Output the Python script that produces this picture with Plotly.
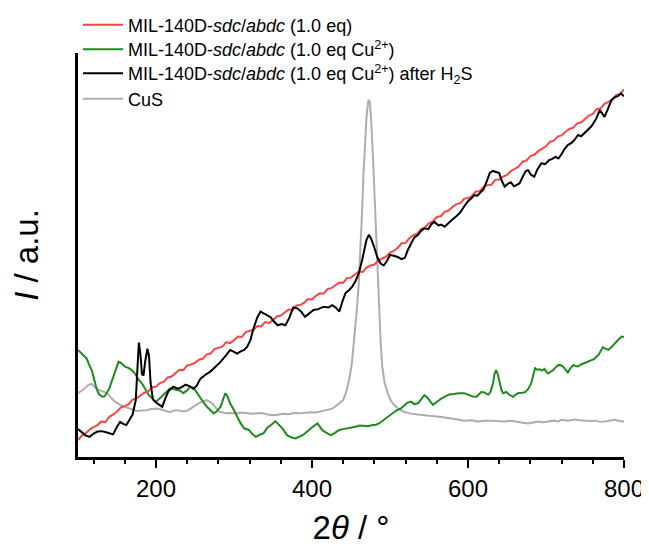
import plotly.graph_objects as go

# ---------------- data ----------------
red_x = list(range(100, 805, 5))
red_y = [4.2, 5.3, 5.9, 6.8, 7.4, 7.9, 8.8, 8.6, 9.9, 10.6, 11.2, 12.3, 12.6, 13.1, 14.2, 14.5,
         15.3, 15.9, 16.2, 17.3, 17.4, 18.3, 18.6, 19.7, 19.9, 20.8, 21.6, 21.5, 22.7, 22.9,
         23.3, 24.1, 24.3, 25.4, 25.6, 26.7, 27.0, 27.3, 28.4, 28.2, 28.9, 29.8, 29.7, 30.9,
         31.2, 31.5, 32.4, 32.3, 33.4, 33.2, 33.9, 34.8, 35.0, 35.7, 36.5, 36.4, 37.5, 37.6,
         38.2, 39.1, 39.0, 39.9, 40.5, 40.4, 41.6, 41.8, 42.5, 43.2, 43.1, 44.3, 44.4, 45.2,
         45.9, 45.8, 46.9, 47.4, 47.6, 48.7, 49.1, 49.6, 50.6, 51.0, 51.8, 52.9, 53.0, 54.2,
         54.9, 55.3, 56.4, 56.8, 57.9, 58.3, 59.4, 59.6, 60.7, 61.0, 61.9, 62.6, 62.8, 63.9,
         64.1, 64.6, 65.7, 65.8, 66.9, 67.3, 67.4, 68.6, 68.7, 69.4, 69.8, 70.8, 71.3, 71.9,
         73.1, 73.4, 74.5, 74.8, 75.7, 76.4, 76.9, 78.0, 78.3, 79.3, 79.6, 80.5, 81.2, 81.5,
         82.6, 82.8, 83.7, 84.5, 84.9, 86.1, 86.3, 87.4, 87.9, 88.4, 89.6, 89.8, 91.0]

green_x = [100, 105, 111, 114, 118, 121, 124, 127, 131, 134, 137, 140, 143, 147, 150, 152, 155, 160,
           165, 169, 172, 175, 178, 182, 185, 188, 191, 195, 199, 202, 205, 209, 214, 218, 222, 227,
           231, 235, 240, 244, 247, 250, 254, 257, 261, 265, 270, 274, 278, 283, 286, 289, 292, 295,
           300, 304, 308, 313, 319, 323, 328, 333, 338, 343, 347, 353, 357, 362, 368, 373, 379, 383,
           388, 392, 396, 401, 407, 410, 413, 418, 424, 429, 435, 440, 446, 451, 456, 461, 467, 472,
           478, 482, 486, 490, 495, 499, 503, 508, 514, 518, 522, 527, 531, 536, 540, 544, 548, 552,
           555, 560, 566, 571, 576, 582, 588, 595, 600, 606, 611, 614, 617, 621, 626, 629, 632, 634,
           636, 638, 640, 643, 645, 649, 653, 658, 661, 664, 669, 673, 677, 681, 684, 686, 689, 692,
           695, 698, 701, 703, 706, 709, 713, 716, 719, 722, 725, 728, 731, 735, 738, 741, 745, 750,
           754, 758, 762, 767, 770, 773, 776, 780, 784, 788, 792, 797, 800]
green_y = [26.5, 25.6, 24.4, 23.0, 21.3, 19.0, 16.8, 15.5, 14.9, 15.0, 15.8, 16.9, 18.6, 21.0, 23.0,
           23.6, 23.3, 22.4, 22.0, 21.5, 20.9, 19.9, 19.1, 18.2, 17.2, 16.2, 15.3, 14.5, 13.7, 14.0,
           14.5, 15.3, 16.2, 17.0, 16.8, 16.6, 16.4, 15.8, 16.5, 17.4, 17.2, 16.6, 15.4, 14.5, 13.5,
           12.5, 11.6, 10.8, 11.3, 12.5, 14.3, 15.8, 14.8, 13.3, 11.6, 10.0, 8.5, 7.1, 6.7, 5.8, 5.0,
           5.5, 5.9, 7.3, 7.8, 8.9, 8.2, 7.1, 5.4, 4.9, 4.6, 4.9, 5.4, 6.0, 6.7, 7.5, 8.3, 7.6, 6.7,
           6.0, 5.4, 5.9, 6.7, 6.9, 7.1, 7.3, 7.5, 7.8, 7.7, 7.6, 7.9, 8.0, 8.3, 8.9, 9.6, 10.2, 10.8,
           11.5, 12.0, 12.6, 13.4, 13.7, 13.1, 13.3, 14.3, 15.3, 14.7, 13.5, 12.9, 13.6, 14.5, 15.0,
           15.5, 15.6, 15.8, 15.8, 15.4, 15.0, 14.9, 15.5, 16.1, 16.0, 15.4, 16.2, 18.2, 20.5, 21.5,
           20.6, 18.6, 16.5, 15.8, 16.1, 15.4, 14.9, 15.4, 15.8, 15.9, 16.0, 16.8, 18.2, 20.5, 22.0,
           21.6, 21.7, 21.4, 21.8, 20.9, 20.7, 21.1, 21.5, 22.3, 22.8, 22.7, 22.4, 21.6, 20.9, 21.9,
           22.8, 22.5, 22.4, 22.9, 23.3, 23.5, 24.0, 24.3, 25.2, 26.1, 27.2, 26.8, 26.5, 27.2, 28.1,
           28.9, 29.8, 29.7]

black_x = [100, 105, 110, 115, 120, 125, 130, 135, 140, 145, 150, 154, 158, 162, 166, 170, 174, 176,
           178, 180, 182, 184, 186, 189, 191, 193, 196, 200, 204, 208, 212, 216, 222, 228, 232, 238,
           244, 248, 252, 257, 263, 270, 276, 283, 290, 295, 300, 304, 308, 313, 317, 321, 325, 330,
           334, 338, 343, 347, 351, 356, 361, 366, 371, 376, 381, 386, 391, 396, 402, 408, 415, 421,
           426, 431, 435, 439, 443, 448, 452, 456, 460, 464, 467, 470, 473, 476, 480, 484, 488, 492,
           496, 500, 505, 510, 515, 519, 523, 527, 531, 536, 540, 544, 549, 553, 557, 562, 566, 570,
           575, 580, 585, 590, 595, 600, 604, 608, 612, 616, 620, 624, 628, 632, 636, 640, 643, 647,
           651, 655, 659, 663, 666, 670, 674, 677, 681, 685, 689, 694, 699, 704, 708, 712, 716, 720,
           724, 728, 733, 737, 741, 745, 750, 754, 758, 762, 765, 769, 772, 775, 779, 784, 788, 792,
           796, 800]
black_y = [6.9, 6.0, 5.3, 5.0, 5.8, 6.3, 6.4, 6.2, 5.9, 5.6, 7.5, 8.7, 8.2, 7.9, 9.2, 10.5, 14.0,
           22.0, 28.3, 25.5, 20.5, 20.2, 23.5, 26.8, 25.0, 18.5, 14.3, 13.5, 13.0, 12.4, 14.5, 16.3,
           17.4, 16.9, 17.2, 17.9, 17.4, 16.9, 17.6, 19.4, 20.3, 21.2, 22.3, 23.6, 25.2, 26.5, 26.0,
           25.6, 26.1, 26.5, 27.3, 28.9, 31.8, 34.6, 36.0, 35.6, 35.1, 34.6, 33.6, 32.6, 32.9, 32.6,
           34.5, 37.0, 36.8, 36.0, 34.7, 35.4, 36.4, 36.6, 37.2, 37.0, 37.6, 36.9, 36.0, 38.5, 40.6,
           41.4, 42.3, 43.6, 45.5, 48.5, 51.2, 53.8, 55.0, 54.0, 51.8, 49.3, 47.9, 47.4, 48.5, 50.0,
           49.8, 49.5, 49.0, 49.3, 51.3, 53.0, 54.3, 55.0, 56.0, 56.6, 56.4, 57.6, 58.2, 57.3, 57.5,
           57.0, 58.0, 58.8, 59.6, 60.5, 62.0, 63.3, 64.0, 64.8, 64.7, 65.6, 66.3, 68.2, 70.3, 70.8,
           70.6, 70.3, 68.5, 66.9, 67.6, 68.0, 67.0, 67.4, 67.7, 69.3, 70.8, 71.0, 69.8, 69.4, 71.2,
           72.7, 72.5, 73.5, 73.8, 74.3, 73.9, 75.0, 76.3, 77.2, 77.8, 78.6, 79.7, 79.4, 80.4, 81.0,
           81.8, 83.0, 84.0, 85.9, 85.0, 84.2, 86.0, 88.4, 89.0, 89.3, 90.0, 89.3]

grey_x = [100, 105, 109, 113, 117, 121, 126, 131, 137, 141, 145, 150, 154, 159, 165, 170, 175, 181,
          188, 194, 201, 205, 210, 218, 223, 227, 232, 238, 243, 248, 254, 259, 265, 270, 274, 280,
          286, 291, 297, 304, 310, 317, 323, 330, 336, 342, 347, 355, 362, 370, 377, 384, 391, 398,
          405, 412, 420, 425, 430, 435, 440, 444, 448, 451, 454, 457, 460, 462, 464, 466, 468, 470,
          472, 473, 474, 476, 478, 480, 482, 484, 486, 488, 490, 493, 497, 501, 505, 511, 518, 525,
          533, 540, 550, 561, 570, 578, 587, 595, 604, 612, 621, 630, 638, 647, 655, 664, 670, 677,
          683, 690, 696, 703, 710, 715, 720, 728, 737, 743, 750, 756, 763, 769, 775, 782, 788, 794,
          800]
grey_y = [15.8, 16.5, 17.0, 17.8, 18.1, 17.4, 16.6, 16.3, 15.8, 15.0, 14.1, 13.4, 12.9, 12.5, 12.1,
          11.7, 11.4, 11.5, 11.6, 11.9, 12.0, 11.8, 11.6, 11.1, 11.5, 11.6, 11.4, 11.3, 11.8, 12.5,
          13.2, 13.7, 14.1, 13.5, 12.9, 11.3, 11.0, 10.8, 10.9, 10.8, 11.0, 10.9, 10.7, 10.8, 10.9,
          10.6, 10.4, 10.4, 10.7, 10.6, 10.9, 10.8, 11.0, 11.1, 11.0, 11.3, 11.6, 11.9, 12.5, 13.2,
          14.1, 16.2, 19.5, 23.0, 28.5, 35.5, 43.0, 50.0, 60.0, 70.0, 78.0, 84.5, 88.0, 88.4, 88.0,
          83.0, 75.0, 66.0, 56.0, 45.0, 36.0, 28.5, 22.5, 18.5, 15.8, 14.0, 12.9, 11.9, 11.2, 10.8,
          10.6, 10.4, 10.2, 10.0, 9.8, 9.6, 9.3, 9.0, 9.1, 8.8, 9.0, 9.0, 8.9, 8.8, 9.0, 8.8, 8.5,
          8.3, 8.6, 8.8, 8.6, 8.8, 9.0, 8.8, 9.2, 9.0, 9.3, 9.1, 9.0, 8.9, 9.0, 8.7, 8.8, 9.0, 9.2,
          8.9, 8.8]

names = [
    "MIL-140D-<i>sdc</i>/<i>abdc</i> (1.0 eq)",
    "MIL-140D-<i>sdc</i>/<i>abdc</i> (1.0 eq Cu<sup>2+</sup>)",
    "MIL-140D-<i>sdc</i>/<i>abdc</i> (1.0 eq Cu<sup>2+</sup>) after H<sub>2</sub>S",
    "CuS",
]
x_tick_vals = [200, 400, 600, 800]

FONT = "Liberation Sans, Arial, sans-serif"

fig = go.Figure()
fig.add_trace(go.Scatter(x=grey_x, y=grey_y, mode="lines", name=names[3], legend="legend4",
                         line=dict(color="#adadad", width=2)))
fig.add_trace(go.Scatter(x=green_x, y=green_y, mode="lines", name=names[1], legend="legend2",
                         line=dict(color="#1e8a1e", width=2)))
fig.add_trace(go.Scatter(x=red_x, y=red_y, mode="lines", name=names[0], legend="legend",
                         line=dict(color="#f54545", width=2)))
fig.add_trace(go.Scatter(x=black_x, y=black_y, mode="lines", name=names[2], legend="legend3",
                         line=dict(color="#000000", width=2)))

# page has an 8px body margin; figure coordinates are page coordinates minus 8
# plot area (page px): x 78..624, y 53..457
PLOT_TOP, PLOT_BOTTOM = 53, 457
row_centers_px = [25, 49.5, 73.5, 99]


def leg(row_px):
    return dict(x=0.0, y=(PLOT_BOTTOM - row_px) / (PLOT_BOTTOM - PLOT_TOP),
                xanchor="left", yanchor="middle",
                bgcolor="rgba(0,0,0,0)", borderwidth=0,
                font=dict(size=18, family=FONT), itemwidth=40)


fig.update_layout(
    width=641, height=542,
    margin=dict(l=70, r=25, t=45, b=93, autoexpand=False),
    paper_bgcolor="white", plot_bgcolor="white",
    font=dict(family=FONT, color="black"),
    showlegend=True,
    legend=leg(row_centers_px[0]),
    legend2=leg(row_centers_px[1]),
    legend3=leg(row_centers_px[2]),
    legend4=leg(row_centers_px[3]),
    xaxis=dict(range=[100, 800], showline=True, linewidth=3, linecolor="black",
               showgrid=False, zeroline=False, mirror=False, automargin=False,
               ticks="outside", ticklen=8, tickwidth=2, tickcolor="black",
               tickvals=x_tick_vals, ticktext=[str(v) for v in x_tick_vals],
               tickfont=dict(size=24, family=FONT),
               minor=dict(dtick=40, tick0=0, ticks="outside", ticklen=4, tickwidth=2, tickcolor="black"),
               title=dict(text="2<i>θ</i> / °", font=dict(size=33, family=FONT), standoff=16)),
    yaxis=dict(range=[0, 100], showline=True, linewidth=3, linecolor="black",
               showgrid=False, zeroline=False, showticklabels=False, ticks="", automargin=False,
               title=dict(text="<i>I</i> / a.u.", font=dict(size=33, family=FONT), standoff=30)),
)

fig.write_html("out.html")
